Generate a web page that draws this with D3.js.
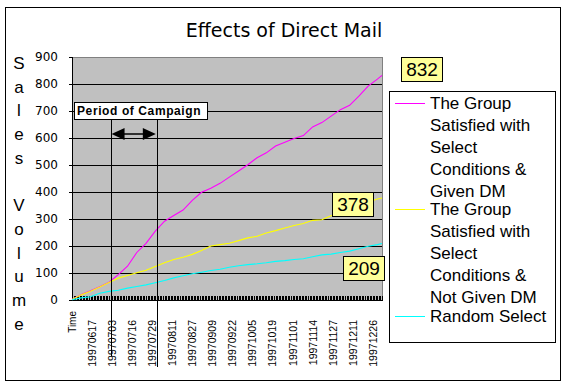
<!DOCTYPE html>
<html lang="en">
<head>
<meta charset="UTF-8">
<title>Effects of Direct Mail</title>
<script src="https://d3js.org/d3.v7.min.js"></script>
<style>
  body { margin: 0; padding: 0; background: #fff; }
  svg { display: block; }
  .frame { fill: #fff; stroke: #000; stroke-width: 1px; }
  .plot-bg { fill: #c0c0c0; stroke: #808080; stroke-width: 1px; }
  .grid line, .axis line, .ticks line { stroke: #000; stroke-width: 1px; shape-rendering: crispEdges; }
  .series { fill: none; stroke-width: 1.1px; }
  text { font-family: "Liberation Sans", Arial, sans-serif; fill: #000; }
</style>
</head>
<body>
<svg width="569" height="388"></svg>
<script>
// ---- data ----
const title = "Effects of Direct Mail";
const yTitle = "Sales Volume";
const xTitle = "Time";
const yTicks = [0, 100, 200, 300, 400, 500, 600, 700, 800, 900];

// category axis: 202 daily categories, a label every 13th
const nCategories = 202;
const dateLabels = ["19970617", "19970703", "19970716", "19970729", "19970811",
  "19970827", "19970909", "19970922", "19971005", "19971019", "19971101",
  "19971114", "19971127", "19971211", "19971226"];
const dateLabelIdx = [13, 26, 39, 52, 65, 78, 91, 104, 117, 130, 143, 156, 169, 182, 195];

// sampled categories at which the curves were read
const sampleIdx = [0, 6, 12, 18, 24, 30, 36, 42, 48, 54, 60, 66, 72, 78, 84, 90, 96,
  102, 108, 114, 120, 126, 132, 138, 144, 150, 156, 162, 168, 174, 180, 186, 192, 198, 201];

const givenDM = [2, 20, 34, 49, 66, 94, 125, 176, 210, 255, 292, 313, 333, 369, 399,
  414, 432, 455, 478, 501, 527, 545, 570, 584, 598, 609, 641, 657, 681, 705, 721,
  755, 792, 818, 832];
const notGivenDM = [2, 19, 32, 48, 65, 81, 91, 101, 110, 124, 138, 150, 158, 169, 183,
  200, 205, 210, 220, 230, 236, 248, 257, 267, 276, 283, 295, 297, 312, 325, 338,
  350, 362, 374, 378];
const randomSelect = [1, 8, 12, 25, 32, 36, 44, 50, 56, 64, 72, 82, 90, 97, 103,
  109, 114, 121, 127, 131, 134, 138, 143, 146, 150, 153, 160, 167, 170, 176, 181,
  190, 199, 205, 209];

const seriesNames = [
  ["The Group", "Satisfied with", "Select", "Conditions &", "Given DM"],
  ["The Group", "Satisfied with", "Select", "Conditions &", "Not Given DM"],
  ["Random Select"]
];
const seriesColors = ["#ff00ff", "#ffff00", "#00ffff"];
const seriesValues = [givenDM, notGivenDM, randomSelect];

const campaignLabel = "Period of Campaign";
const campaignIdx = [25, 55];

// ---- layout ----
const svg = d3.select("svg");
const plot = { left: 72, top: 57, right: 382, bottom: 300 };

svg.append("rect").attr("class", "frame")
  .attr("x", 5.5).attr("y", 7.5).attr("width", 555).attr("height", 373);

svg.append("text")
  .attr("x", 284).attr("y", 37)
  .attr("text-anchor", "middle")
  .style("font-family", "'DejaVu Sans', sans-serif")
  .style("font-size", "19px")
  .text(title);

const x = d3.scaleLinear().domain([0, nCategories - 1]).range([plot.left, plot.right]);
const y = d3.scaleLinear().domain([0, 900]).range([plot.bottom, plot.top]);

svg.append("rect").attr("class", "plot-bg")
  .attr("x", plot.left + 0.5).attr("y", plot.top + 0.5)
  .attr("width", plot.right - plot.left).attr("height", plot.bottom - plot.top);

// gridlines
svg.append("g").attr("class", "grid")
  .selectAll("line")
  .data(yTicks.filter(d => d > 0 && d < 900))
  .join("line")
  .attr("x1", plot.left).attr("x2", plot.right)
  .attr("y1", d => y(d)).attr("y2", d => y(d));

// y axis
const yAxis = svg.append("g").attr("class", "axis")
  .attr("transform", `translate(${plot.left},0)`)
  .call(d3.axisLeft(y).tickValues(yTicks).tickSize(3).tickPadding(11).tickFormat(d3.format("d")));
yAxis.select(".domain").remove();
yAxis.append("line").attr("x1", 0).attr("x2", 0).attr("y1", plot.top).attr("y2", plot.bottom);
yAxis.selectAll("text")
  .style("font-family", "'DejaVu Sans', sans-serif")
  .style("font-size", "12px")
  .attr("fill", "#000");

// stacked y title
svg.append("g").selectAll("text")
  .data(yTitle.split(""))
  .join("text")
  .attr("x", 19)
  .attr("y", (d, i) => 69 + i * 23.7)
  .attr("text-anchor", "middle")
  .style("font-size", "17px")
  .text(d => d);

// category ticks (inside, every category)
svg.append("g").attr("class", "ticks")
  .selectAll("line")
  .data(d3.range(nCategories))
  .join("line")
  .attr("x1", d => Math.round(x(d)) + 0.5).attr("x2", d => Math.round(x(d)) + 0.5)
  .attr("y1", plot.bottom - 4).attr("y2", plot.bottom);

svg.append("g").attr("class", "axis")
  .append("line")
  .attr("x1", plot.left).attr("x2", plot.right + 1)
  .attr("y1", plot.bottom + 0.5).attr("y2", plot.bottom + 0.5);

// x labels, rotated
svg.append("g").selectAll("text")
  .data(dateLabels)
  .join("text")
  .attr("transform", (d, i) => `translate(${x(dateLabelIdx[i]) + 4},320) rotate(-90)`)
  .attr("text-anchor", "end")
  .style("font-size", "10.5px")
  .text(d => d);

svg.append("text")
  .attr("transform", `translate(${x(0) + 4},311) rotate(-90)`)
  .attr("text-anchor", "end")
  .style("font-size", "10px")
  .text(xTitle);

// series lines
const line = d3.line()
  .x((d, i) => x(sampleIdx[i]))
  .y(d => y(d));

svg.append("g").selectAll("path")
  .data(seriesValues)
  .join("path")
  .attr("class", "series")
  .attr("stroke", (d, i) => seriesColors[i])
  .attr("d", d => line(d));

// campaign period annotation
const boxX = 74, boxY = 102, boxW = 133, boxH = 17;
svg.append("g").attr("class", "axis")
  .selectAll("line")
  .data(campaignIdx)
  .join("line")
  .attr("x1", d => Math.round(x(d)) + 0.5).attr("x2", d => Math.round(x(d)) + 0.5)
  .attr("y1", boxY + boxH).attr("y2", (d, i) => i === 0 ? 356 : 367);

svg.append("rect")
  .attr("x", boxX + 0.5).attr("y", boxY + 0.5).attr("width", boxW).attr("height", boxH)
  .attr("fill", "#fff").attr("stroke", "#000");
svg.append("text")
  .attr("x", boxX + 3).attr("y", boxY + 13)
  .style("font-size", "12px").style("font-weight", "bold").style("letter-spacing", "0.6px")
  .text(campaignLabel);

const ax1 = x(campaignIdx[0]) + 1, ax2 = x(campaignIdx[1]) - 1, ay = 134;
svg.append("line")
  .attr("x1", ax1 + 6).attr("x2", ax2 - 6).attr("y1", ay).attr("y2", ay)
  .attr("stroke", "#000").attr("stroke-width", 1.5);
svg.append("path")
  .attr("d", `M${ax1},${ay} L${ax1 + 13},${ay - 6} L${ax1 + 13},${ay + 6} Z M${ax2},${ay} L${ax2 - 13},${ay - 6} L${ax2 - 13},${ay + 6} Z`)
  .attr("fill", "#000");

// end value labels
const labelOffsets = [[19, -18.5], [-50, -6], [-39, 12.5]];
const lastIdx = sampleIdx[sampleIdx.length - 1];
seriesValues.forEach((vals, i) => {
  const v = vals[vals.length - 1];
  const bx = x(lastIdx) + labelOffsets[i][0];
  const by = y(v) + labelOffsets[i][1];
  svg.append("rect")
    .attr("x", Math.round(bx) + 0.5).attr("y", Math.round(by) + 0.5)
    .attr("width", 41).attr("height", 24)
    .attr("fill", "#ffff99").attr("stroke", "#000");
  svg.append("text")
    .attr("x", Math.round(bx) + 21).attr("y", Math.round(by) + 19)
    .attr("text-anchor", "middle")
    .style("font-size", "19px")
    .text(v);
});

// legend
const legend = svg.append("g");
legend.append("rect")
  .attr("x", 389.5).attr("y", 91.5).attr("width", 166).attr("height", 251)
  .attr("fill", "#fff").attr("stroke", "#000");

const lineH = 22;
const legendTop = [103, 209, 316];
seriesNames.forEach((lines, i) => {
  const g = legend.append("g");
  g.append("line")
    .attr("x1", 395).attr("x2", 425)
    .attr("y1", legendTop[i] + 0.5).attr("y2", legendTop[i] + 0.5)
    .attr("stroke", seriesColors[i]).attr("stroke-width", 1);
  g.selectAll("text")
    .data(lines)
    .join("text")
    .attr("x", 430)
    .attr("y", (d, j) => legendTop[i] + 6 + j * lineH)
    .style("font-size", "17px")
    .text(d => d);
});
</script>
</body>
</html>
